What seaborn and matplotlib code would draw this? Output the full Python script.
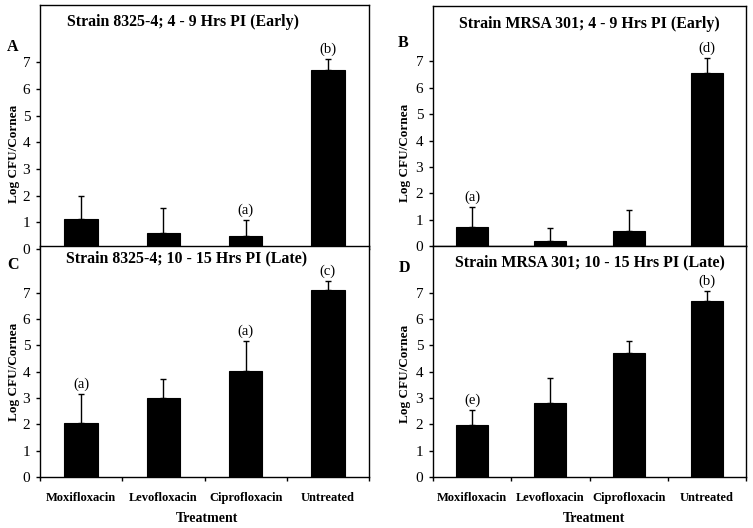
import matplotlib
matplotlib.use("Agg")
import matplotlib.pyplot as plt
import seaborn as sns
import pandas as pd
import numpy as np

treatments = ["Moxifloxacin", "Levofloxacin", "Ciprofloxacin", "Untreated"]

a_mean = [1.13, 0.61, 0.49, 6.71]
a_err = [0.85, 0.94, 0.59, 0.41]
a_note = ["", "", "(a)", "(b)"]

b_mean = [0.73, 0.18, 0.55, 6.57]
b_err = [0.73, 0.51, 0.80, 0.57]
b_note = ["(a)", "", "", "(d)"]

c_mean = [2.04, 2.99, 4.02, 7.11]
c_err = [1.11, 0.72, 1.15, 0.33]
c_note = ["(a)", "", "(a)", "(c)"]

d_mean = [1.98, 2.81, 4.70, 6.70]
d_err = [0.57, 0.95, 0.47, 0.37]
d_note = ["(e)", "", "", "(b)"]

titles = ["Strain 8325-4; 4 - 9 Hrs PI (Early)",
          "Strain MRSA 301; 4 - 9 Hrs PI (Early)",
          "Strain 8325-4; 10 - 15 Hrs PI (Late)",
          "Strain MRSA 301; 10 - 15 Hrs PI (Late)"]
letters = ["A", "B", "C", "D"]
yticks = [0, 1, 2, 3, 4, 5, 6, 7]

sns.set_theme(style="white")
plt.rcParams['font.family'] = ['Liberation Serif', 'DejaVu Serif']

W, H = 753, 528
fig = plt.figure(figsize=(W / 100, H / 100), dpi=100)

def rect(l, r, t, b):
    return [l / W, 1 - b / H, (r - l) / W, (b - t) / H]

panels = [
    dict(rect=rect(40, 369, 5, 249), mean=a_mean, err=a_err, note=a_note, ymax=9.15,
         tx=0.435, ty=0.93, lab=(-0.061, 0.39), letter=(13, 47), bottom=False),
    dict(rect=rect(433, 746, 6, 246), mean=b_mean, err=b_err, note=b_note, ymax=9.1,
         tx=0.5, ty=0.925, lab=(-0.070, 0.39), letter=(403, 43), bottom=False),
    dict(rect=rect(40, 369, 246, 477), mean=c_mean, err=c_err, note=c_note, ymax=8.77,
         tx=0.445, ty=0.948, lab=(-0.061, 0.456), letter=(13, 265), bottom=True,
         xl=(0.509, -0.150)),
    dict(rect=rect(433, 746, 246, 477), mean=d_mean, err=d_err, note=d_note, ymax=8.77,
         tx=0.5, ty=0.93, lab=(-0.070, 0.446), letter=(404, 268), bottom=True,
         xl=(0.514, -0.150)),
]

for i, p in enumerate(panels):
    ax = fig.add_axes(p["rect"])
    ax.set_facecolor("white")
    df = pd.DataFrame({"Treatment": treatments, "Log": p["mean"]})
    sns.barplot(data=df, x="Treatment", y="Log", color="black", width=0.41,
                errorbar=None, edgecolor="black", linewidth=0.8, saturation=1, ax=ax)
    xs = np.arange(len(treatments))
    ax.errorbar(xs, p["mean"], yerr=[np.zeros(len(xs)), p["err"]], fmt="none",
                ecolor="black", elinewidth=1.0, capsize=2.5, capthick=1.0)
    for x, m, e, n in zip(xs, p["mean"], p["err"], p["note"]):
        if n:
            ax.text(x, m + e + 0.12, n, ha="center", va="bottom", fontsize=10.5,
                    color="black")
    ax.set_xlim(-0.5, 3.5)
    ax.set_ylim(0, p["ymax"])
    ax.set_yticks(yticks)
    ax.set_yticklabels([str(v) for v in yticks], fontsize=11)
    ax.tick_params(axis="y", direction="out", length=3, width=1, pad=4,
                   left=True, colors="black")
    for s in ax.spines.values():
        s.set_visible(True)
        s.set_color("black")
        s.set_linewidth(1.0)
    ax.set_ylabel("Log CFU/Cornea", fontsize=9.5, fontweight="bold", color="black")
    ax.yaxis.set_label_coords(*p["lab"])
    ax.text(p["tx"], p["ty"], titles[i], transform=ax.transAxes, ha="center",
            va="center", fontsize=11.4, fontweight="bold", color="black")
    fig.text(p["letter"][0] / W, 1 - p["letter"][1] / H, letters[i], ha="center",
             va="center", fontsize=11.5, fontweight="bold", color="black")
    if p["bottom"]:
        ax.set_xticks(xs)
        ax.set_xticklabels(treatments, fontsize=9, fontweight="bold")
        ax.set_xticks([-0.5, 0.5, 1.5, 2.5, 3.5], minor=True)
        ax.tick_params(axis="x", which="major", length=0, pad=11, colors="black")
        ax.tick_params(axis="x", which="minor", direction="out", length=3,
                       width=1, bottom=True, colors="black")
        ax.set_xlabel("Treatment", fontsize=10, fontweight="bold", color="black")
        ax.xaxis.set_label_coords(*p["xl"])
    else:
        ax.set_xticks([])
        ax.set_xlabel("")

fig.savefig("out.png", dpi=100, facecolor="white")
